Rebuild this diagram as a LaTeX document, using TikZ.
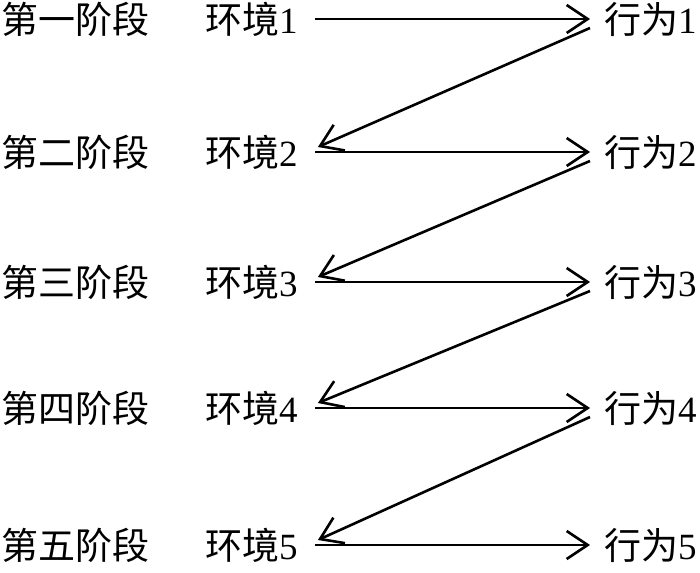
\documentclass[tikz,border=0pt]{standalone}
\usepackage{fontspec}
\setmainfont{Liberation Serif}
\newfontfamily\cjk{Noto Sans CJK SC}
\usetikzlibrary{arrows.meta}

\begin{document}
\begin{tikzpicture}[x=1pt,y=-1pt,
    main node/.style={anchor=west,inner sep=0pt,font=\fontsize{37}{42}\selectfont},
    flow/.style={line width=2.6pt,-{Straight Barb[length=21pt,width=28pt,line width=2.6pt]}}]
    \useasboundingbox (0,0) rectangle (700,572);

    \node[main node] (s1) at (1,19) {\cjk 第一阶段};
    \node[main node] (s2) at (1,152) {\cjk 第二阶段};
    \node[main node] (s3) at (1,282) {\cjk 第三阶段};
    \node[main node] (s4) at (1,408) {\cjk 第四阶段};
    \node[main node] (s5) at (1,545) {\cjk 第五阶段};

    \node[main node] (e1) at (205,19) {{\cjk 环境}1};
    \node[main node] (e2) at (205,152) {{\cjk 环境}2};
    \node[main node] (e3) at (205,282) {{\cjk 环境}3};
    \node[main node] (e4) at (205,408) {{\cjk 环境}4};
    \node[main node] (e5) at (205,545) {{\cjk 环境}5};

    \node[main node] (a1) at (604,19) {{\cjk 行为}1};
    \node[main node] (a2) at (604,152) {{\cjk 行为}2};
    \node[main node] (a3) at (604,282) {{\cjk 行为}3};
    \node[main node] (a4) at (604,408) {{\cjk 行为}4};
    \node[main node] (a5) at (604,545) {{\cjk 行为}5};

    % environment -> behaviour
    \draw[flow] ([xshift=17pt]e1.east) -- ([xshift=-14pt]a1.west);
    \draw[flow] ([xshift=17pt]e2.east) -- ([xshift=-14pt]a2.west);
    \draw[flow] ([xshift=17pt]e3.east) -- ([xshift=-14pt]a3.west);
    \draw[flow] ([xshift=17pt]e4.east) -- ([xshift=-14pt]a4.west);
    \draw[flow] ([xshift=17pt]e5.east) -- ([xshift=-14pt]a5.west);

    % behaviour -> next environment
    \draw[flow] ([shift={(-14pt,-9pt)}]a1.west) -- ([shift={(20pt,5pt)}]e2.east);
    \draw[flow] ([shift={(-14pt,-9pt)}]a2.west) -- ([shift={(20pt,5pt)}]e3.east);
    \draw[flow] ([shift={(-14pt,-9pt)}]a3.west) -- ([shift={(20pt,5pt)}]e4.east);
    \draw[flow] ([shift={(-14pt,-9pt)}]a4.west) -- ([shift={(20pt,5pt)}]e5.east);
\end{tikzpicture}
\end{document}
